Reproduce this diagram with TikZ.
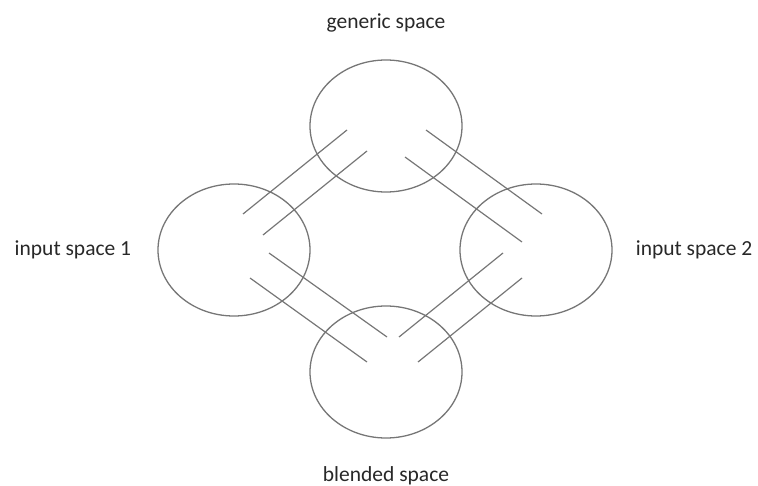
\documentclass[tikz,border=0pt]{standalone}
\usepackage{fontspec}
\setmainfont{Carlito}
\usetikzlibrary{shapes.geometric,positioning}
\definecolor{linegray}{RGB}{118,118,118}
\definecolor{textgray}{RGB}{40,40,40}

\begin{document}
\begin{tikzpicture}[
    x=1pt, y=-1pt,
    space/.style={ellipse, draw=linegray, line width=1.3pt, minimum width=152pt, minimum height=132pt, inner sep=0pt},
    caption/.style={inner sep=0pt, font=\fontsize{21.5}{25}\selectfont, text=textgray},
    link/.style={draw=linegray, line width=1.2pt},
    node distance=26pt
]
\useasboundingbox (0,0) rectangle (758,486);

% the four spaces
\node[space] (generic) at (386,126) {};
\node[space] (input1) at (234,250) {};
\node[space] (input2) at (536,250) {};
\node[space] (blended) at (386,372) {};

\node[caption, above=27pt of generic] (genericlbl) {generic space};
\node[caption, left=of input1] (input1lbl) {input space 1};
\node[caption, right=23pt of input2] (input2lbl) {input space 2};
\node[caption, below=28pt of blended] (blendedlbl) {blended space};

% ends of the connecting lines
\coordinate (a1) at (243,214);   \coordinate (a2) at (347,130);
\coordinate (b1) at (263,235);   \coordinate (b2) at (367,151);
\coordinate (c1) at (426,130);   \coordinate (c2) at (542,214);
\coordinate (d1) at (405,157);   \coordinate (d2) at (522,242);
\coordinate (e1) at (269,253);   \coordinate (e2) at (387,337);
\coordinate (f1) at (250,278);   \coordinate (f2) at (367,362);
\coordinate (g1) at (399,337);   \coordinate (g2) at (503,253);
\coordinate (h1) at (418,362);   \coordinate (h2) at (522,278);

\foreach \p in {a,b,c,d,e,f,g,h}
    \draw[link] (\p1) -- (\p2);
\end{tikzpicture}
\end{document}
